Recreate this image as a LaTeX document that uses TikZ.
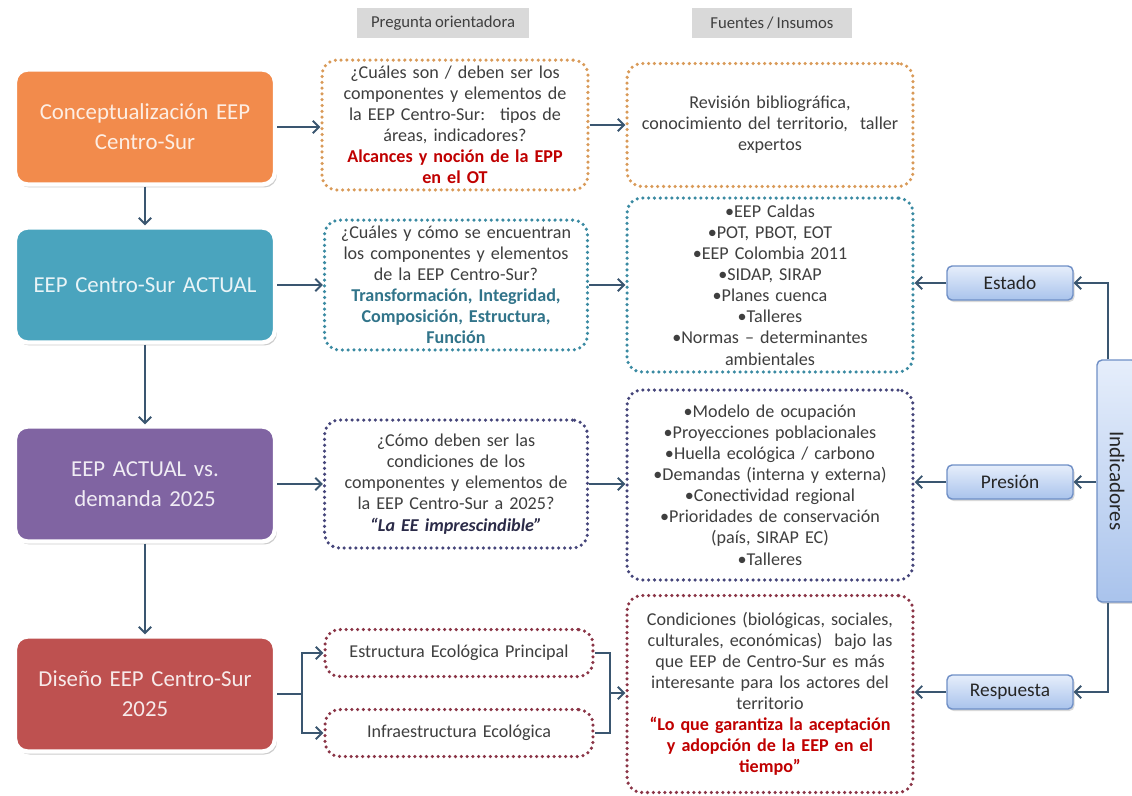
\documentclass[tikz,border=0pt]{standalone}
\usepackage{fontspec}
\setmainfont{Carlito}[WordSpace=0.8]
\usetikzlibrary{arrows.meta,shadows,calc}

\definecolor{cOrange}{HTML}{F28B4C}
\definecolor{cTeal}{HTML}{4AA4BE}
\definecolor{cPurple}{HTML}{8064A2}
\definecolor{cRed}{HTML}{BE5150}
\definecolor{dOrange}{HTML}{D99A58}
\definecolor{dTeal}{HTML}{3A8AA2}
\definecolor{dNavy}{HTML}{45457A}
\definecolor{dRed}{HTML}{8A3446}
\definecolor{txtgray}{HTML}{3F3F3F}
\definecolor{hdrgray}{HTML}{D9D9D9}
\definecolor{qred}{HTML}{C00000}
\definecolor{qteal}{HTML}{31748A}
\definecolor{qnavy}{HTML}{2B2B48}
\definecolor{arrblue}{HTML}{3A5670}
\definecolor{indtop}{HTML}{E6EEFB}
\definecolor{indbot}{HTML}{A9C3EC}
\definecolor{indline}{HTML}{6F8FC6}

\begin{document}
\begin{tikzpicture}[x=0.02cm, y=-0.02cm,
		mainbox/.style={rounded corners=0.25cm, draw=white, line width=2.5pt, minimum width=5.2cm, minimum height=2.3cm, text width=4.9cm, align=center, font=\fontsize{13}{17}\selectfont, drop shadow={opacity=0.4, shadow xshift=0.04cm, shadow yshift=-0.06cm}},
		dotbox/.style={rounded corners=0.3cm, line width=2pt, line cap=round, dash pattern=on 0pt off 3.3pt, fill=white, text=txtgray, align=center, font=\fontsize{10.3}{12}\selectfont},
		hdr/.style={fill=hdrgray, text=txtgray, minimum height=0.6cm, font=\fontsize{9.5}{11}\selectfont},
		indbox/.style={rounded corners=0.1cm, draw=indline, line width=0.8pt, top color=indtop, bottom color=indbot, minimum width=2.52cm, minimum height=0.68cm, font=\fontsize{11}{13}\selectfont, text=black!85, drop shadow={opacity=0.3, shadow xshift=0.03cm, shadow yshift=-0.04cm}},
		arr/.style={-{Straight Barb[length=3.5pt,width=7pt]}, line width=1.1pt, draw=arrblue},
		lnk/.style={line width=1.1pt, draw=arrblue}]
		%%%%% START %%%%%
		\useasboundingbox (0,0) rectangle (1132,795);
		
		\node[hdr, minimum width=3.46cm] (hq) at (443,23) {Pregunta orientadora};
		\node[hdr, minimum width=3.22cm] (hs) at (772,23) {Fuentes / Insumos};
		
		%%%%% left column
		\node[mainbox, fill=cOrange, text=white!85!cOrange] (conc) at (145,127) {Conceptualización EEP\\ Centro-Sur};
		\node[mainbox, fill=cTeal, text=white!88!cTeal] (actual) at (145,285) {EEP Centro-Sur ACTUAL};
		\node[mainbox, fill=cPurple, text=white!88!cPurple] (demanda) at (145,484) {EEP ACTUAL vs.\\ demanda 2025};
		\node[mainbox, fill=cRed, text=white!88!cRed] (diseno) at (145,694) {Diseño EEP Centro-Sur\\ 2025};
		
		%%%%% questions
		\node[dotbox, draw=dOrange, minimum width=5.32cm, minimum height=2.52cm, text width=5.0cm] (q1) at (455,125) {¿Cuáles son / deben ser los\\ componentes y elementos de\\ la EEP Centro-Sur:~ tipos de\\ áreas, indicadores?\\ {\color{qred}\bfseries Alcances y noción de la EPP\\ en el OT}};
		\node[dotbox, draw=dTeal, minimum width=5.26cm, minimum height=2.42cm, text width=5.0cm] (q2) at (456,285) {¿Cuáles y cómo se encuentran\\ los componentes y elementos\\ de la EEP Centro-Sur?\\ {\color{qteal}\bfseries Transformación, Integridad,\\ Composición, Estructura,\\ Función}};
		\node[dotbox, draw=dNavy, minimum width=5.26cm, minimum height=2.56cm, text width=5.0cm] (q3) at (456,484) {¿Cómo deben ser las\\ condiciones de los\\ componentes y elementos de\\ la EEP Centro-Sur a 2025?\\ {\color{qnavy}\bfseries\itshape “La EE imprescindible”}};
		\node[dotbox, draw=dRed, minimum width=5.36cm, minimum height=0.94cm, text width=5.1cm] (q4a) at (459,653) {Estructura Ecológica Principal};
		\node[dotbox, draw=dRed, minimum width=5.36cm, minimum height=0.94cm, text width=5.1cm] (q4b) at (459,733) {Infraestructura Ecológica};
		
		%%%%% sources
		\node[dotbox, draw=dOrange, minimum width=5.72cm, minimum height=2.46cm, text width=5.4cm] (s1) at (770,125) {Revisión bibliográfica,\\ conocimiento del territorio,~ taller\\ expertos};
		\node[dotbox, draw=dTeal, minimum width=5.72cm, minimum height=3.48cm, text width=5.4cm] (s2) at (770,285) {•EEP Caldas\\ •POT, PBOT, EOT\\ •EEP Colombia 2011\\ •SIDAP, SIRAP\\ •Planes cuenca\\ •Talleres\\ •Normas – determinantes\\ ambientales};
		\node[dotbox, draw=dNavy, minimum width=5.72cm, minimum height=3.8cm, text width=5.4cm] (s3) at (770,485) {•Modelo de ocupación\\ •Proyecciones poblacionales\\ •Huella ecológica / carbono\\ •Demandas (interna y externa)\\ •Conectividad regional\\ •Prioridades de conservación\\ (país, SIRAP EC)\\ •Talleres};
		\node[dotbox, draw=dRed, minimum width=5.72cm, minimum height=3.94cm, text width=5.4cm] (s4) at (770,694) {Condiciones (biológicas, sociales,\\ culturales, económicas)~ bajo las\\ que EEP de Centro-Sur es más\\ interesante para los actores del\\ territorio\\ {\color{qred}\bfseries “Lo que garantiza la aceptación\\ y adopción de la EEP en el\\ tiempo”}};
		
		%%%%% indicators
		\node[indbox] (estado) at (1010,283) {Estado};
		\node[indbox] (presion) at (1010,482) {Presión};
		\node[indbox] (respuesta) at (1010,692) {Respuesta};
		\node[indbox, minimum width=0.8cm, minimum height=4.84cm] (ind) at (1117,481) {};
		\node[rotate=-90, font=\fontsize{12}{14}\selectfont, text=black!85] (indtxt) at (ind) {Indicadores};
		
		%%%%% arrows
		\draw[arr] (conc) -- (actual);
		\draw[arr] (actual) -- (demanda);
		\draw[arr] (demanda) -- (diseno);
		
		\draw[arr] (conc.east) -- (conc.east -| q1.west);
		\draw[arr] (q1.east) -- (q1.east -| s1.west);
		\draw[arr] (actual.east) -- (actual.east -| q2.west);
		\draw[arr] (q2.east) -- (q2.east -| s2.west);
		\draw[arr] (demanda.east) -- (demanda.east -| q3.west);
		\draw[arr] (q3.east) -- (q3.east -| s3.west);
		
		\draw[arr] (diseno.east) -- ++(0.5cm,0) |- (q4a.west);
		\draw[arr] (diseno.east) -- ++(0.5cm,0) |- (q4b.west);
		\draw[lnk] (q4a.east) -- ++(0.3cm,0) |- (q4b.east);
		\coordinate (junc) at ($(q4a.east)!0.5!(q4b.east) + (0.3cm,0)$);
		\draw[arr] (junc) -- (junc -| s4.west);
		
		\draw[arr] (estado.west) -- (estado.west -| s2.east);
		\draw[arr] (presion.west) -- (presion.west -| s3.east);
		\draw[arr] (respuesta.west) -- (respuesta.west -| s4.east);
		\draw[arr] ([xshift=-0.18cm]ind.north) |- (estado.east);
		\draw[arr] (ind.west |- presion.east) -- (presion.east);
		\draw[arr] ([xshift=-0.18cm]ind.south) |- (respuesta.east);
		
		%%%%% END %%%%%
\end{tikzpicture}
\end{document}
